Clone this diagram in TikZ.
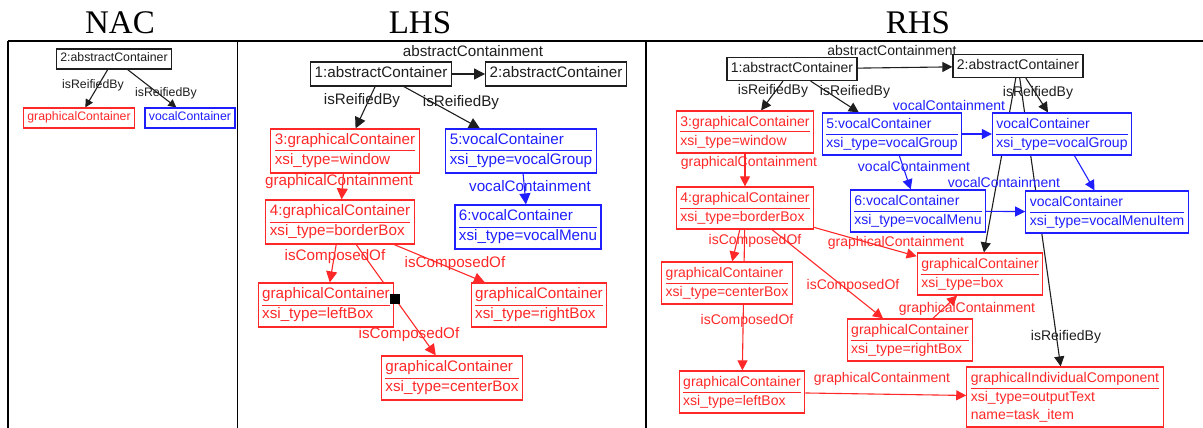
\documentclass[tikz,border=0pt]{standalone}
\usepackage{fontspec}
\setmainfont{Liberation Serif}
\newfontfamily\diagfont{Liberation Sans}
\usetikzlibrary{arrows.meta,backgrounds}

\definecolor{gcred}{RGB}{255,40,40}
\definecolor{vcblue}{RGB}{30,30,255}
\definecolor{acgray}{RGB}{30,30,30}

\newcommand\nacfont [0]{\diagfont\fontsize{12.3}{15}\selectfont}
\newcommand\lhsfont [0]{\diagfont\fontsize{15.2}{19}\selectfont}
\newcommand\rhsfont [0]{\diagfont\fontsize{14}{18}\selectfont}
\newcommand\objbox  [2]{\begin{tabular}{@{}l@{}}#1\\\hline #2\end{tabular}}
\setlength\arrayrulewidth{1pt}

\tikzset{
  obj/.style={draw=#1,text=#1,fill=white,line width=1.2pt,inner xsep=4pt,inner ysep=2.5pt},
  link/.style={draw=#1,line width=1.1pt,->},
  lbl/.style={text=#1,inner sep=0pt},
  head/.style={font=\fontsize{33}{36}\selectfont,anchor=base,inner sep=0pt},
  frame/.style={line width=1.8pt}
}

\begin{document}
\begin{tikzpicture}[x=1pt,y=-1pt]
  \useasboundingbox (0,0) rectangle (1203,428);

  \node [head] (nac) at (120,34) {NAC};
  \node [head] (lhs) at (420,34) {LHS};
  \node [head] (rhs) at (918,34) {RHS};
  \draw [frame] (8,41) -- (1203,41);
  \draw [frame] (8,41) -- (8,428);
  \draw [frame] (237.5,41) -- (237.5,428);
  \draw [frame] (646,41) -- (646,428);

  % negative application condition
  \begin{scope}[font=\nacfont, >={Triangle[length=8pt,width=8pt]}]
    \node [obj=acgray] (n2)  at (114,59)  {\strut 2:abstractContainer};
    \node [obj=gcred]  (ngc) at (79,118)  {\strut graphicalContainer};
    \node [obj=vcblue] (nvc) at (190,118) {\strut vocalContainer};
    \node [lbl=acgray]       at (93,85)   {isReifiedBy};
    \node [lbl=acgray]       at (166,93)  {isReifiedBy};
    \begin{scope}[on background layer]
      \draw [link=acgray] (n2) -- (ngc);
      \draw [link=acgray] (n2) -- (nvc);
    \end{scope}
  \end{scope}

  % left hand side
  \begin{scope}[font=\lhsfont, >={Triangle[length=11pt,width=11pt]}]
    \node [obj=acgray] (l1)      at (381,74)  {\strut 1:abstractContainer};
    \node [obj=acgray] (l2)      at (556,74)  {\strut 2:abstractContainer};
    \node [obj=gcred]  (l3)      at (345,151) {\objbox{3:graphicalContainer}{xsi\_type=window}};
    \node [obj=vcblue] (l5)      at (521,151) {\objbox{5:vocalContainer}{xsi\_type=vocalGroup}};
    \node [obj=gcred]  (l4)      at (340,222) {\objbox{4:graphicalContainer}{xsi\_type=borderBox}};
    \node [obj=vcblue] (l6)      at (528,227) {\objbox{6:vocalContainer}{xsi\_type=vocalMenu}};
    \node [obj=gcred]  (lleft)   at (326,305) {\objbox{graphicalContainer}{xsi\_type=leftBox}};
    \node [obj=gcred]  (lright)  at (539,305) {\objbox{graphicalContainer}{xsi\_type=rightBox}};
    \node [obj=gcred]  (lcenter) at (452,378) {\objbox{graphicalContainer}{xsi\_type=centerBox}};
    \node [fill=black,inner sep=0pt,minimum size=10pt] (grip) at (395,299) {};

    \node [lbl=acgray] at (473,51)  {abstractContainment};
    \node [lbl=acgray] at (362,101) {isReifiedBy};
    \node [lbl=acgray] at (461,103) {isReifiedBy};
    \node [lbl=gcred]  at (339,182) {graphicalContainment};
    \node [lbl=vcblue] at (530,186) {vocalContainment};
    \node [lbl=gcred]  at (335,257) {isComposedOf};
    \node [lbl=gcred]  at (455,264) {isComposedOf};
    \node [lbl=gcred]  at (409,335) {isComposedOf};

    \begin{scope}[on background layer]
      \draw [link=acgray] (l1) -- (l2);
      \draw [link=acgray] (l1) -- (l3);
      \draw [link=acgray] (l1) -- (l5);
      \draw [link=gcred]  (l3) -- (l4);
      \draw [link=vcblue] (l5) -- (l6);
      \draw [link=gcred]  (l4) -- (lleft);
      \draw [link=gcred]  (l4) -- (lright);
      \draw [link=gcred]  (l4) -- (lcenter);
    \end{scope}
  \end{scope}

  % right hand side
  \begin{scope}[font=\rhsfont, >={Triangle[length=10pt,width=10pt]}]
    \node [obj=acgray] (r1)      at (792,69)   {\strut 1:abstractContainer};
    \node [obj=acgray] (r2)      at (1018,66)  {\strut 2:abstractContainer};
    \node [obj=gcred]  (r3)      at (745,132)  {\objbox{3:graphicalContainer}{xsi\_type=window}};
    \node [obj=gcred]  (r4)      at (745,208)  {\objbox{4:graphicalContainer}{xsi\_type=borderBox}};
    \node [obj=vcblue] (r5)      at (892,134)  {\objbox{5:vocalContainer}{xsi\_type=vocalGroup}};
    \node [obj=vcblue] (rgroup)  at (1062,134) {\objbox{vocalContainer}{xsi\_type=vocalGroup}};
    \node [obj=vcblue] (r6)      at (918,211)  {\objbox{6:vocalContainer}{xsi\_type=vocalMenu}};
    \node [obj=vcblue] (ritem)   at (1107,212) {\objbox{vocalContainer}{xsi\_type=vocalMenuItem}};
    \node [obj=gcred]  (rcenter) at (727,283)  {\objbox{graphicalContainer}{xsi\_type=centerBox}};
    \node [obj=gcred]  (rbox)    at (980,274)  {\objbox{graphicalContainer}{xsi\_type=box}};
    \node [obj=gcred]  (rright)  at (910,340)  {\objbox{graphicalContainer}{xsi\_type=rightBox}};
    \node [obj=gcred]  (rleft)   at (742,392)  {\objbox{graphicalContainer}{xsi\_type=leftBox}};
    \node [obj=gcred]  (rtext)   at (1065,397) {\objbox{graphicalIndividualComponent}{xsi\_type=outputText\\name=task\_item}};

    \node [lbl=acgray] at (892,50)   {abstractContainment};
    \node [lbl=acgray] at (773,91)   {isReifiedBy};
    \node [lbl=acgray] at (855,92)   {isReifiedBy};
    \node [lbl=acgray] at (1038,93)  {isReifiedBy};
    \node [lbl=acgray] at (1066,337) {isReifiedBy};
    \node [lbl=vcblue] at (949,105)  {vocalContainment};
    \node [lbl=vcblue] at (914,166)  {vocalContainment};
    \node [lbl=vcblue] at (1004,182) {vocalContainment};
    \node [lbl=gcred]  at (749,163)  {graphicalContainment};
    \node [lbl=gcred]  at (896,243)  {graphicalContainment};
    \node [lbl=gcred]  at (967,309)  {graphicalContainment};
    \node [lbl=gcred]  at (882,379)  {graphicalContainment};
    \node [lbl=gcred]  at (755,241)  {isComposedOf};
    \node [lbl=gcred]  at (853,286)  {isComposedOf};
    \node [lbl=gcred]  at (747,321)  {isComposedOf};

    \begin{scope}[on background layer]
      \draw [link=acgray] (r1) -- (r2);
      \draw [link=acgray] (r1) -- (r3);
      \draw [link=acgray] (r1) -- (r5);
      \draw [link=acgray] (r2) -- (rgroup);
      \draw [link=acgray] (r2) -- (rbox);
      \draw [link=acgray] (r2) -- (rtext);
      \draw [link=gcred]  (r3) -- (r4);
      \draw [link=vcblue] (r5) -- (rgroup);
      \draw [link=vcblue] (r5) -- (r6);
      \draw [link=vcblue] (r6) -- (ritem);
      \draw [link=vcblue] (rgroup) -- (ritem);
      \draw [link=gcred]  (r4) -- (rcenter);
      \draw [link=gcred]  (r4) -- (rleft);
      \draw [link=gcred]  (r4) -- (rright);
      \draw [link=gcred]  (r4) -- (rbox);
      \draw [link=gcred]  (rright) -- (rbox);
      \draw [link=gcred]  (rleft) -- (rtext);
    \end{scope}
  \end{scope}
\end{tikzpicture}
\end{document}
